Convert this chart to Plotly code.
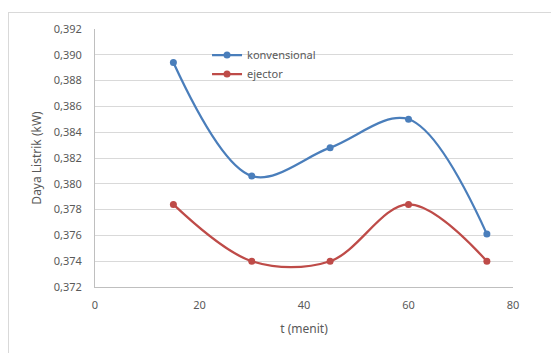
import plotly.graph_objects as go

t_menit = [15, 30, 45, 60, 75]
konvensional = [0.3894, 0.3806, 0.3828, 0.3850, 0.3761]
ejector = [0.3784, 0.3740, 0.3740, 0.3784, 0.3740]

x_ticks = [0, 20, 40, 60, 80]
y_ticks = [0.372, 0.374, 0.376, 0.378, 0.380, 0.382, 0.384, 0.386, 0.388, 0.390, 0.392]

FONT = "Noto Sans"
TXT = "#595959"

fig = go.Figure()
fig.add_trace(go.Scatter(
    x=t_menit, y=konvensional, name="konvensional", mode="lines+markers",
    line=dict(color="#4A7EBB", width=2.25, shape="spline", smoothing=1),
    marker=dict(color="#4A7EBB", size=7),
))
fig.add_trace(go.Scatter(
    x=t_menit, y=ejector, name="ejector", mode="lines+markers",
    line=dict(color="#BE4B48", width=2.25, shape="spline", smoothing=1),
    marker=dict(color="#BE4B48", size=7),
))

fig.update_layout(
    width=551, height=353,
    margin=dict(l=95, r=38, t=29, b=66),
    paper_bgcolor="white", plot_bgcolor="white",
    separators=",.",
    font=dict(family=FONT, size=11, color=TXT),
    showlegend=True,
    legend=dict(x=0.268, y=0.955, xanchor="left", yanchor="top",
                bgcolor="rgba(0,0,0,0)", font=dict(size=11, color=TXT),
                tracegroupgap=0, itemwidth=30),
    xaxis=dict(range=[0, 80], tickvals=x_ticks, showgrid=False, zeroline=False,
               showline=True, linecolor="#BFBFBF", linewidth=1, ticks="",
               ticklabelstandoff=8,
               tickfont=dict(size=11, color=TXT),
               title=dict(text="t (menit)", font=dict(size=12, color=TXT), standoff=13)),
    yaxis=dict(range=[0.372, 0.392], tickvals=y_ticks, tickformat=".3f",
               showgrid=True, gridcolor="#D9D9D9", gridwidth=1, zeroline=False,
               showline=True, linecolor="#BFBFBF", linewidth=1, ticks="",
               ticklabelstandoff=10,
               tickfont=dict(size=11, color=TXT),
               title=dict(text="Daya Listrik (kW)", font=dict(size=12, color=TXT), standoff=9)),
    shapes=[
        dict(type="line", xref="paper", yref="paper", x0=(8 - 95) / 418, x1=(551 - 95) / 418,
             y0=1 + (29 - 12.5) / 258, y1=1 + (29 - 12.5) / 258,
             line=dict(color="#D9D9D9", width=1)),
        dict(type="line", xref="paper", yref="paper", x0=(8.5 - 95) / 418, x1=(8.5 - 95) / 418,
             y0=1 + (29 - 12.5) / 258, y1=(287 - 360) / 258,
             line=dict(color="#D9D9D9", width=1)),
    ],
)

fig.write_html("out.html")
